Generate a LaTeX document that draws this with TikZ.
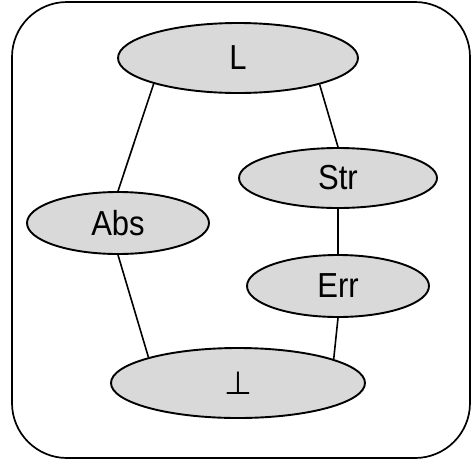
\documentclass[tikz,border=0pt]{standalone}
\usepackage{fontspec}
\setmainfont{Liberation Sans}
\newfontfamily\dejavu{DejaVu Sans}
\usetikzlibrary{shapes.geometric}
\definecolor{nodefill}{RGB}{217,217,217}
\newcommand{\tall}[1]{\scalebox{1}[1.12]{#1}}
\begin{document}
\begin{tikzpicture}[x=1pt,y=-1pt,
  elem/.style={ellipse,draw=black,line width=1.9pt,fill=nodefill,inner sep=0pt,
    font=\fontsize{31}{36}\selectfont},
  link/.style={draw=black,line width=1.6pt}]
\useasboundingbox (0,0) rectangle (473,461);
\draw[line width=1.7pt,rounded corners=55pt] (12,2) rectangle (470,458);
\node[elem,minimum width=240pt,minimum height=70pt] (L) at (238,58) {\tall{L}};
\node[elem,minimum width=198pt,minimum height=60pt] (Str) at (338,178) {\tall{Str}};
\node[elem,minimum width=182pt,minimum height=62pt] (Abs) at (118,223) {\tall{Abs}};
\node[elem,minimum width=182pt,minimum height=62pt] (Err) at (338,286) {\tall{Err}};
\node[elem,minimum width=254pt,minimum height=70pt] (Bot) at (238,383) {\raisebox{-4pt}{\dejavu\fontsize{32}{36}\selectfont ⊥}};
\draw[link] (L.197) -- (Abs.north);
\draw[link] (Abs.south) -- (Bot.164);
\draw[link] (L.342) -- (Str.north);
\draw[link] (Str.south) -- (Err.north);
\draw[link] (Err.south) -- (Bot.14);
\end{tikzpicture}
\end{document}
